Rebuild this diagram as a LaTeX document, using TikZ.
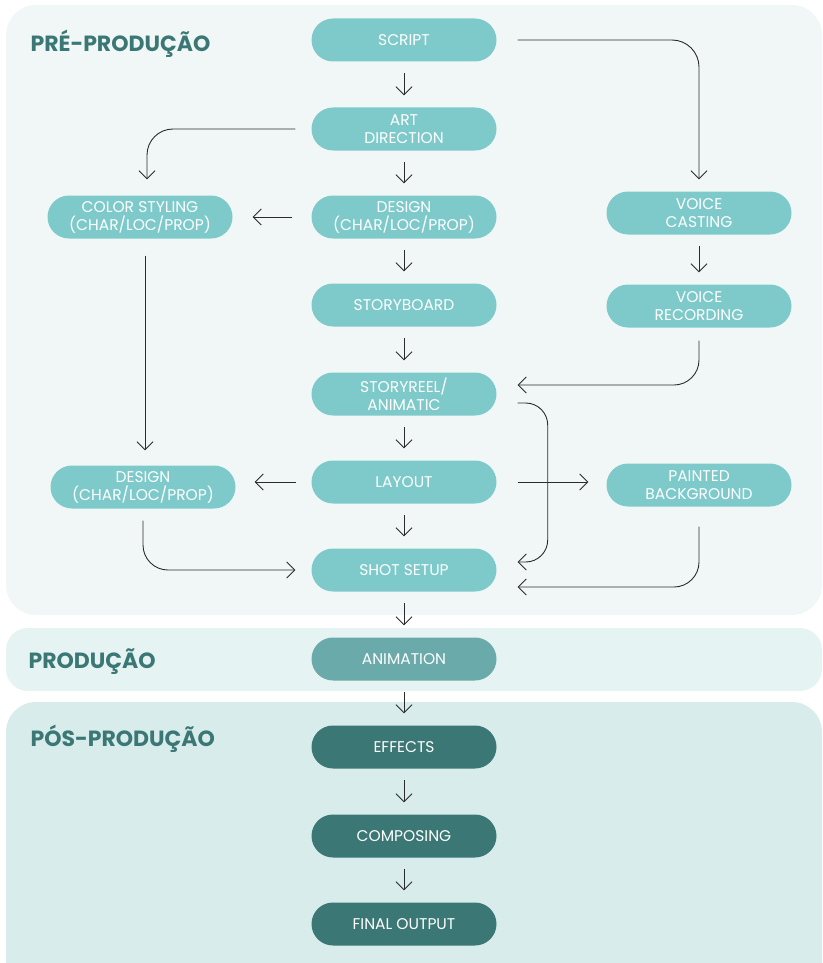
\documentclass[tikz,border=0pt]{standalone}
\usepackage{fontspec}
\setmainfont{Poppins}
\usetikzlibrary{arrows.meta}
\definecolor{paneA}{HTML}{F1F7F7}
\definecolor{paneB}{HTML}{E6F3F3}
\definecolor{paneC}{HTML}{D8ECEC}
\definecolor{tealL}{HTML}{7ECACA}
\definecolor{tealM}{HTML}{6BAAAA}
\definecolor{tealD}{HTML}{3B7774}
\definecolor{ink}{HTML}{2B2B2B}
\begin{document}
\begin{tikzpicture}[x=1pt, y=-1pt, > = {Straight Barb[length=8pt, width=16pt]},
    stage/.style={rectangle, rounded corners=21.5pt, minimum width=185pt, minimum height=43pt,
        inner sep=0pt, fill=tealL, text=white, align=center, font=\fontsize{15.5}{18}\selectfont},
    prod/.style={stage, fill=tealM},
    post/.style={stage, fill=tealD},
    phase/.style={anchor=base west, text=tealD, font=\fontsize{22}{26}\selectfont\bfseries},
    flow/.style={->, draw=ink, line width=0.9pt}]
    \useasboundingbox (0,0) rectangle (822,963);
    \clip (0,0) rectangle (822,963);
    % Panels
    \fill [paneA, rounded corners=30pt] (6,5) rectangle (822,615);
    \fill [paneB, rounded corners=22pt] (6,628) rectangle (822,691);
    \fill [paneC, rounded corners=30pt] (6,702) rectangle (822,1010);
    \node [phase] (pre) at (27,52) {PRÉ-PRODUÇÃO};
    \node [phase] (mid) at (25,668) {PRODUÇÃO};
    \node [phase] (pos) at (27,746) {PÓS-PRODUÇÃO};
    % Main column
    \node [stage] (script) at (404,40) {SCRIPT};
    \node [stage] (art) at (404,129) {ART\\DIRECTION};
    \node [stage] (design) at (404,217) {DESIGN\\(CHAR/LOC/PROP)};
    \node [stage] (board) at (404,305) {STORYBOARD};
    \node [stage] (reel) at (404,394) {STORYREEL/\\ANIMATIC};
    \node [stage] (layout) at (404,482) {LAYOUT};
    \node [stage] (shot) at (404,570) {SHOT SETUP};
    \node [prod] (anim) at (404,659) {ANIMATION};
    \node [post] (fx) at (404,747) {EFFECTS};
    \node [post] (comp) at (404,836) {COMPOSING};
    \node [post] (final) at (404,924) {FINAL OUTPUT};
    % Side columns
    \node [stage] (color) at (140,217) {COLOR STYLING\\(CHAR/LOC/PROP)};
    \node [stage] (design2) at (143,487) {DESIGN\\(CHAR/LOC/PROP)};
    \node [stage] (cast) at (699,213) {VOICE\\CASTING};
    \node [stage] (rec) at (699,306) {VOICE\\RECORDING};
    \node [stage] (paint) at (699,485) {PAINTED\\BACKGROUND};
    % Arrows
    \foreach \a/\b in {script/art, art/design, design/board, board/reel, reel/layout,
        layout/shot, shot/anim, anim/fx, fx/comp, comp/final, cast/rec}
        \draw [flow, shorten <=11.5pt, shorten >=12pt] (\a) -- (\b);
    \draw [flow, rounded corners=27pt, shorten <=21pt, shorten >=12pt]
        (script.east) -| (cast.north);
    \draw [flow, rounded corners=26pt, shorten <=16pt, shorten >=16pt]
        (art.west) -| ([xshift=7pt]color.north);
    \draw [flow, shorten <=19pt, shorten >=20pt] (design.west) -- (color.east);
    \draw [flow, shorten <=17pt, shorten >=15pt]
        ([xshift=5pt]color.south) -- ([xshift=5pt]color.south |- design2.north);
    \draw [flow, shorten <=15.5pt, shorten >=19pt] (layout.west) -- (layout.west -| design2.east);
    \draw [flow, shorten <=21pt, shorten >=18pt] (layout.east) -- (layout.east -| paint.west);
    \draw [flow, rounded corners=25pt, shorten <=13pt, shorten >=21pt]
        (rec.south) |- ([yshift=9pt]reel.east);
    \draw [flow, rounded corners=22pt, shorten <=21pt, shorten >=21pt]
        ([yshift=-9pt]reel.east) -- ++(51,0) |- ([yshift=8pt]shot.east);
    \draw [flow, rounded corners=25pt, shorten <=20pt, shorten >=21pt]
        (paint.south) |- ([yshift=-17pt]shot.east);
    \draw [flow, rounded corners=25pt, shorten <=12pt, shorten >=16pt]
        (design2.south) |- (shot.west);
\end{tikzpicture}
\end{document}
